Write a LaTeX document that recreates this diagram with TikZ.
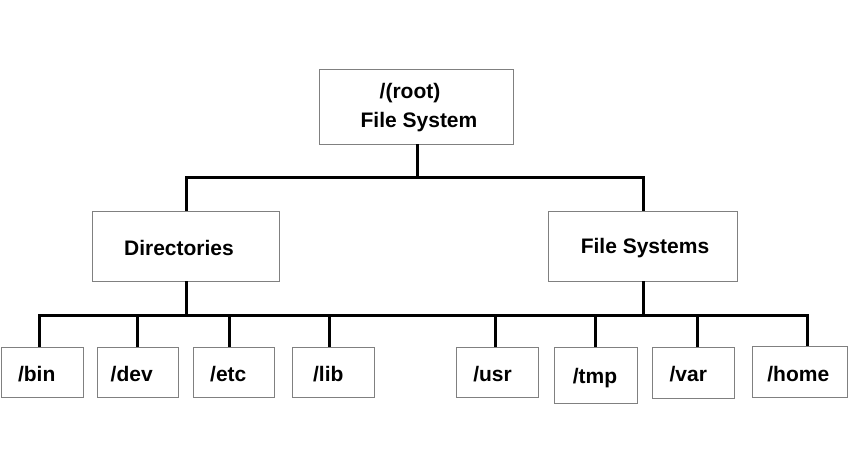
\documentclass[tikz,border=0pt]{standalone}
\usepackage{fontspec}
\setmainfont{Liberation Sans}
\begin{document}
\begin{tikzpicture}[x=1pt,y=-1pt,
  box/.style={draw=black!50, line width=0.7pt, fill=white, inner sep=0pt, rectangle},
  lbl/.style={font=\fontsize{21}{24}\selectfont\bfseries, inner sep=0pt, anchor=base},
  wire/.style={line width=3pt, black}]
\useasboundingbox (0,0) rectangle (850,468);
% boxes
\node[box, minimum width=194pt, minimum height=75pt] (root) at (416,106.5) {};
\node[box, minimum width=187pt, minimum height=70pt] (dirs) at (185.5,246) {};
\node[box, minimum width=189pt, minimum height=70pt] (fs) at (642.5,246) {};
\node[box, minimum width=82pt, minimum height=50pt] (bin) at (42,372) {};
\node[box, minimum width=81pt, minimum height=50pt] (dev) at (137.5,372) {};
\node[box, minimum width=81pt, minimum height=50pt] (etc) at (233.5,372) {};
\node[box, minimum width=82pt, minimum height=50pt] (lib) at (333,372) {};
\node[box, minimum width=82pt, minimum height=50pt] (usr) at (497,372) {};
\node[box, minimum width=83pt, minimum height=56pt] (tmp) at (595.5,375) {};
\node[box, minimum width=82pt, minimum height=51pt] (var) at (693,372.5) {};
\node[box, minimum width=95pt, minimum height=51pt] (home) at (799.5,371.5) {};
% labels
\node[lbl] (root-t1) at (410,99) {/(root)};
\node[lbl] (root-t2) at (419,128) {File System};
\node[lbl] (dirs-t) at (179,255) {Directories};
\node[lbl] (fs-t) at (645,253) {File Systems};
\node[lbl] (bin-t) at (36.7,381) {/bin};
\node[lbl] (dev-t) at (131.7,381) {/dev};
\node[lbl] (etc-t) at (228.3,381) {/etc};
\node[lbl] (lib-t) at (328.3,381) {/lib};
\node[lbl] (usr-t) at (492.5,381) {/usr};
\node[lbl] (tmp-t) at (595,383) {/tmp};
\node[lbl] (var-t) at (688.3,381) {/var};
\node[lbl] (home-t) at (798.3,381) {/home};
% connectors
\coordinate (j1) at (417,177);
\coordinate (busR) at (807,315);
\draw[wire] ([xshift=1pt]root.south) -- (j1);
\draw[wire] ([xshift=.5pt]dirs.north) |- (j1) -| ([xshift=.5pt]fs.north);
\draw[wire] ([xshift=-3pt]bin.north) |- (busR) -- ([xshift=7.5pt]home.north);
\draw[wire] ([xshift=.5pt]dirs.south) -- ([xshift=.5pt]dirs.south |- busR);
\draw[wire] ([xshift=.5pt]fs.south) -- ([xshift=.5pt]fs.south |- busR);
\draw[wire] ([xshift=-.5pt]dev.north) -- ([xshift=-.5pt]dev.north |- busR);
\draw[wire] ([xshift=-4.5pt]etc.north) -- ([xshift=-4.5pt]etc.north |- busR);
\draw[wire] ([xshift=-4pt]lib.north) -- ([xshift=-4pt]lib.north |- busR);
\draw[wire] ([xshift=-2pt]usr.north) -- ([xshift=-2pt]usr.north |- busR);
\draw[wire] ([xshift=-.5pt]tmp.north) -- ([xshift=-.5pt]tmp.north |- busR);
\draw[wire] ([xshift=4pt]var.north) -- ([xshift=4pt]var.north |- busR);
\end{tikzpicture}
\end{document}
